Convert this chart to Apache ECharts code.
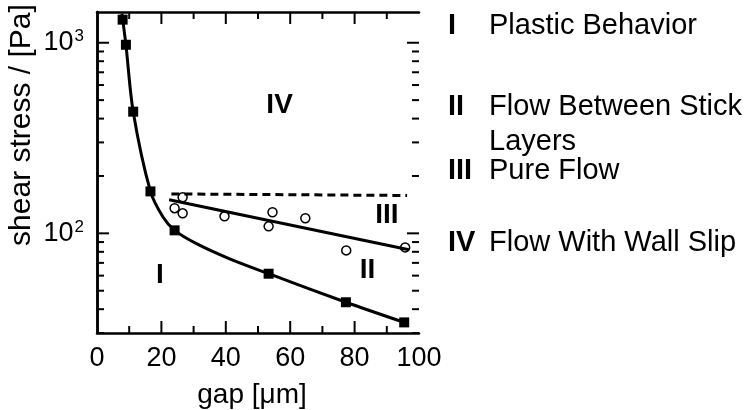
<!DOCTYPE html>
<html>
<head>
<meta charset="utf-8">
<script src="https://cdn.jsdelivr.net/npm/echarts@6/dist/echarts.min.js"></script>
<style>
  html, body { margin: 0; padding: 0; background: #fff; }
  #chart { width: 748px; height: 410px; }
</style>
</head>
<body>
<div id="chart"></div>
<script>
// Shear stress vs. gap: measured points, fitted curves and regime labels
const squareGap    = [7.96, 8.98, 11.24, 16.6, 24.1, 53.3, 77.3, 95.4];
const squareStress = [1322, 976, 435, 166, 103.7, 61.4, 43.5, 34.1];

const circleGap    = [24.1, 26.6, 26.6, 39.6, 54.5, 53.3, 64.7, 77.4, 95.7];
const circleStress = [135.5, 154.6, 127.4, 122.9, 129, 108.8, 120, 81.4, 84.4];

// lower fit curve (plastic behavior -> flow between stick layers)
const fitGap    = [7.74, 8.98, 11.24, 16.6, 20.5, 24.1, 30.9, 41.2, 53.3, 77.3, 95.4];
const fitStress = [1422, 976, 435, 166, 121.8, 103.7, 88.3, 73.5, 61.4, 43.5, 34.1];

// pure flow trend line
const pureGap    = [22.4, 96.9];
const pureStress = [150, 82];

// wall slip limit (dashed)
const slipGap    = [23.1, 96.3];
const slipStress = [161, 158];

// regime labels placed in data space
const regionNames  = ['IV', 'III', 'II', 'I'];
const regionGap    = [56.7, 90, 84, 19.5];
const regionStress = [472, 124, 63.8, 60];

// axis ranges and tick values
const xMin = 0, xMax = 100, xStep = 20;
const yMin = 30, yMax = 1450;
const xTickValues = [10, 20, 30, 40, 50, 60, 70, 80, 90];
const yTickValues = [30, 40, 50, 60, 70, 80, 90, 100, 200, 300, 400, 500, 600, 700, 800, 900, 1000];

// legend entries
const legendNumerals = ['I', 'II', '', 'III', 'IV'];
const legendTexts    = ['Plastic Behavior', 'Flow Between Stick', 'Layers', 'Pure Flow', 'Flow With Wall Slip'];
const legendRows     = [25.5, 106.5, 142, 170.5, 242.5];

const FONT = '"Liberation Sans", Arial, Helvetica, sans-serif';
const pair = (xs, ys) => xs.map((x, i) => [x, ys[i]]);
const isDecade = v => Math.abs(Math.log10(v) - Math.round(Math.log10(v))) < 1e-6;

const chart = echarts.init(document.getElementById('chart'));

const xAxisFor = (pos, labels) => ({
  type: 'value', min: xMin, max: xMax, interval: xStep, position: pos,
  axisLine: { show: true, lineStyle: { color: '#000', width: 2.5 } },
  axisTick: { show: false }, minorTick: { show: false },
  splitLine: { show: false }, minorSplitLine: { show: false },
  axisLabel: labels
    ? { show: true, margin: 12, fontFamily: FONT, fontSize: 27, color: '#000' }
    : { show: false }
});

const yAxisFor = (pos, labels) => ({
  type: 'log', logBase: 10, min: yMin, max: yMax, position: pos,
  axisLine: { show: true, lineStyle: { color: '#000', width: 2.5 } },
  axisTick: { show: false }, minorTick: { show: false },
  splitLine: { show: false },
  axisLabel: labels ? {
    show: true, margin: 13, showMinLabel: false, showMaxLabel: false,
    formatter: v => isDecade(v) ? '{b|10}{s|' + Math.round(Math.log10(v)) + '}' : '',
    rich: {
      b: { fontFamily: FONT, fontSize: 27, color: '#000', lineHeight: 30 },
      s: { fontFamily: FONT, fontSize: 17, color: '#000', verticalAlign: 'top', lineHeight: 17, padding: [0, 0, 0, 1] }
    }
  } : { show: false }
});

chart.setOption({
  animation: false,
  backgroundColor: '#fff',
  grid: { left: 97, top: 12, width: 322, height: 321, containLabel: false },
  xAxis: [xAxisFor('bottom', true), xAxisFor('top', false)],
  yAxis: [yAxisFor('left', true), yAxisFor('right', false)],
  series: [
    {
      name: 'fit', type: 'line', data: pair(fitGap, fitStress), smooth: 0.3,
      symbol: 'none', lineStyle: { color: '#000', width: 3 }
    },
    {
      name: 'pure flow', type: 'line', data: pair(pureGap, pureStress),
      symbol: 'none', lineStyle: { color: '#000', width: 3 }
    },
    {
      name: 'wall slip', type: 'line', data: pair(slipGap, slipStress),
      symbol: 'none', lineStyle: { color: '#000', width: 3, type: [8, 5] }
    },
    {
      name: 'squares', type: 'scatter', data: pair(squareGap, squareStress),
      symbol: 'rect', symbolSize: 10, itemStyle: { color: '#000', opacity: 1 }
    },
    {
      name: 'circles', type: 'scatter', data: pair(circleGap, circleStress),
      symbol: 'circle', symbolSize: 9,
      itemStyle: { color: '#fff', borderColor: '#000', borderWidth: 1.5, opacity: 1 }
    },
    {
      name: 'regions', type: 'scatter', symbolSize: 0, silent: true,
      itemStyle: { opacity: 1 },
      data: regionNames.map((n, i) => ({ name: n, value: [regionGap[i], regionStress[i]] })),
      label: {
        show: true, position: 'inside', formatter: p => p.name,
        fontFamily: FONT, fontWeight: 'bold', fontSize: 28, color: '#000'
      }
    }
  ]
});

// inward ticks on all four sides, positioned with the chart's own axis scales
const toPx = (x, y) => chart.convertToPixel({ xAxisIndex: 0, yAxisIndex: 0 }, [x, y]);
const tickLine = (x1, y1, x2, y2) => ({
  type: 'line', silent: true, z: 100, zlevel: 1,
  shape: { x1, y1, x2, y2 },
  style: { stroke: '#000', lineWidth: 2 }
});
const tickGraphics = [];
xTickValues.forEach(v => {
  const len = v % xStep === 0 ? 12 : 7;
  const b = toPx(v, yMin), t = toPx(v, yMax);
  tickGraphics.push(tickLine(b[0], b[1], b[0], b[1] - len));
  tickGraphics.push(tickLine(t[0], t[1], t[0], t[1] + len));
});
yTickValues.forEach(v => {
  const len = isDecade(v) ? 12 : 7;
  const l = toPx(xMin, v), r = toPx(xMax, v);
  tickGraphics.push(tickLine(l[0], l[1], l[0] + len, l[1]));
  tickGraphics.push(tickLine(r[0], r[1], r[0] - len, r[1]));
});

const textGraphics = [
  {
    type: 'text', x: 252, y: 395,
    style: { text: 'gap [μm]', font: '28px ' + FONT, fill: '#000', align: 'center', verticalAlign: 'middle' }
  },
  {
    type: 'text', x: 22, y: 125, rotation: Math.PI / 2,
    style: { text: 'shear stress / [Pa]', font: '30px ' + FONT, fill: '#000', align: 'center', verticalAlign: 'middle' }
  }
];
legendRows.forEach((y, i) => {
  if (legendNumerals[i]) {
    textGraphics.push({
      type: 'text', x: 448, y: y,
      style: { text: legendNumerals[i], font: 'bold 29px ' + FONT, fill: '#000', verticalAlign: 'middle', align: 'left' }
    });
  }
  textGraphics.push({
    type: 'text', x: 489, y: y,
    style: { text: legendTexts[i], font: '29px ' + FONT, fill: '#000', verticalAlign: 'middle', align: 'left' }
  });
});

chart.setOption({ graphic: textGraphics.concat(tickGraphics) });
</script>
</body>
</html>
